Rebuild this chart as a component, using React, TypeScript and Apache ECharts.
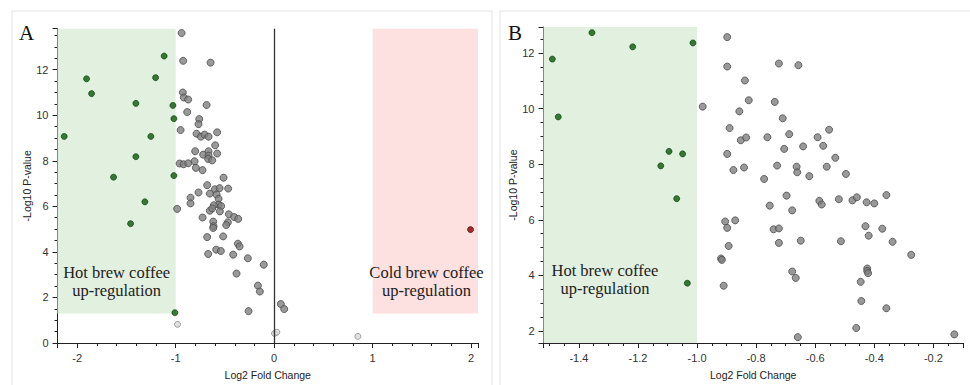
import React, { useEffect, useRef } from "react";
import * as echarts from "echarts";

// Panel A: Log2 fold change vs -Log10 p-value
const aGreen: number[][] = [
  [-2.132, 9.07], [-1.905, 11.6], [-1.854, 10.95], [-1.404, 10.52], [-1.404, 8.18],
  [-1.631, 7.28], [-1.252, 9.07], [-1.204, 11.65], [-1.117, 12.6], [-1.028, 10.43],
  [-1.018, 9.85], [-1.018, 7.35], [-1.313, 6.2], [-1.458, 5.24], [-1.008, 1.33],
];
const aGray: number[][] = [
  [-0.94, 13.61], [-0.924, 12.39], [-0.646, 12.31], [-0.927, 11.0], [-0.917, 10.78],
  [-0.873, 10.69], [-0.686, 10.45], [-0.883, 10.14], [-0.761, 9.83], [-0.768, 9.61],
  [-0.95, 9.35], [-0.788, 9.19], [-0.744, 9.06], [-0.707, 9.15], [-0.666, 9.06],
  [-0.579, 9.25], [-0.599, 8.68], [-0.802, 8.42], [-0.721, 8.27], [-0.666, 8.42],
  [-0.666, 8.23], [-0.579, 8.32], [-0.67, 8.08], [-0.629, 8.02], [-0.96, 7.88],
  [-0.92, 7.85], [-0.873, 7.89], [-0.808, 7.98], [-0.795, 7.69], [-0.727, 7.59],
  [-0.514, 7.26], [-0.68, 6.93], [-0.602, 6.75], [-0.554, 6.8], [-0.467, 6.78],
  [-0.768, 6.61], [-0.653, 6.56], [-0.585, 6.52], [-0.849, 6.38], [-0.564, 6.33],
  [-0.849, 6.13], [-0.564, 6.08], [-0.612, 6.05], [-0.538, 6.01], [-0.985, 5.89],
  [-0.653, 5.81], [-0.629, 5.91], [-0.551, 5.78], [-0.46, 5.65], [-0.406, 5.53],
  [-0.365, 5.45], [-0.727, 5.51], [-0.619, 5.33], [-0.47, 5.3], [-0.615, 5.13],
  [-0.619, 5.05], [-0.487, 5.18], [-0.68, 4.65], [-0.518, 4.68], [-0.368, 4.36],
  [-0.351, 4.24], [-0.67, 3.91], [-0.589, 4.1], [-0.541, 4.04], [-0.416, 3.88],
  [-0.267, 3.72], [-0.105, 3.44], [-0.382, 3.05], [-0.165, 2.52], [-0.145, 2.26],
  [-0.26, 1.4], [0.068, 1.71], [0.102, 1.49],
];
const aLight: number[][] = [[-0.981, 0.82], [0.004, 0.42], [0.027, 0.47], [0.85, 0.29]];
const aRed: number[][] = [[1.994, 4.98]];

// Panel B
const bGreen: number[][] = [
  [-1.356, 12.73], [-1.49, 11.78], [-1.218, 12.22], [-1.014, 12.36], [-1.47, 9.7],
  [-1.095, 8.46], [-1.049, 8.37], [-1.123, 7.94], [-1.069, 6.76], [-1.033, 3.72],
];
const bGray: number[][] = [
  [-0.898, 12.57], [-0.898, 11.51], [-0.838, 11.01], [-0.825, 10.3], [-0.981, 10.07],
  [-0.857, 9.9], [-0.89, 9.3], [-0.852, 8.86], [-0.834, 8.96], [-0.898, 8.37],
  [-0.877, 7.79], [-0.841, 7.88], [-0.905, 5.94], [-0.871, 5.98], [-0.898, 5.71],
  [-0.893, 5.06], [-0.919, 4.61], [-0.916, 4.56], [-0.91, 3.63],
  [-0.723, 11.62], [-0.657, 11.56], [-0.737, 10.24], [-0.71, 9.65], [-0.553, 9.24],
  [-0.762, 8.97], [-0.688, 9.08], [-0.592, 8.97], [-0.641, 8.64], [-0.573, 8.66],
  [-0.705, 8.55], [-0.532, 8.23], [-0.729, 7.95], [-0.663, 7.91], [-0.661, 7.71],
  [-0.561, 7.91], [-0.62, 7.57], [-0.496, 7.65], [-0.773, 7.47], [-0.697, 6.87],
  [-0.586, 6.68], [-0.578, 6.55], [-0.52, 6.74], [-0.474, 6.7], [-0.459, 6.81],
  [-0.426, 6.63], [-0.4, 6.59], [-0.359, 6.89], [-0.754, 6.51], [-0.678, 6.34],
  [-0.741, 5.66], [-0.723, 5.69], [-0.723, 5.17], [-0.649, 5.25], [-0.513, 5.23],
  [-0.43, 5.77], [-0.419, 5.43], [-0.373, 5.68], [-0.338, 5.21], [-0.275, 4.74],
  [-0.678, 4.14], [-0.666, 3.91], [-0.424, 4.25], [-0.424, 4.16], [-0.421, 4.08],
  [-0.446, 3.77], [-0.444, 3.08], [-0.359, 2.82], [-0.461, 2.11], [-0.659, 1.78],
  [-0.129, 1.88],
];

// axis ranges
const aX = [-2.2, 2.07];
const aY = [0, 13.8];
const bX = [-1.52, -0.1];
const bY = [1.57, 12.93];
const regionFloorA = 1.3;

const regionText = "Hot brew coffee\nup-regulation";
const regionTextCold = "Cold brew coffee\nup-regulation";

const SANS = "Liberation Sans, Arial, sans-serif";
const SERIF = "Liberation Serif, Times New Roman, serif";

const grayStyle = { color: "#7f7f7f", borderColor: "#4a4a4a", borderWidth: 1 };
const greenStyle = { color: "#095a09", borderColor: "#053305", borderWidth: 0.8 };

function xAxisCfg(idx: number, range: number[], step: number, minorSplit: number, fmt?: (v: number) => string) {
  return {
    type: "value",
    gridIndex: idx,
    min: range[0],
    max: range[1],
    minInterval: step,
    maxInterval: step,
    name: "Log2 Fold Change",
    nameLocation: "middle",
    nameGap: 26,
    nameTextStyle: { fontFamily: SANS, fontSize: 10.5, color: "#222" },
    axisLine: { show: true, onZero: false, lineStyle: { color: "#222", width: 1 } },
    axisTick: { show: true, length: 5, lineStyle: { color: "#222" } },
    minorTick: { show: true, splitNumber: minorSplit, length: 3, lineStyle: { color: "#222" } },
    splitLine: { show: false },
    axisLabel: {
      showMinLabel: false,
      showMaxLabel: false,
      margin: 9,
      fontFamily: SANS,
      fontSize: 11,
      color: "#333",
      formatter: fmt,
    },
  };
}

function yAxisCfg(idx: number, range: number[], minorSplit: number, showMin: boolean) {
  return {
    type: "value",
    gridIndex: idx,
    min: range[0],
    max: range[1],
    minInterval: 2,
    maxInterval: 2,
    name: "-Log10 P-value",
    nameLocation: "middle",
    nameGap: 25,
    nameTextStyle: { fontFamily: SANS, fontSize: 10.5, color: "#222" },
    axisLine: { show: true, onZero: false, lineStyle: { color: "#222", width: 1 } },
    axisTick: { show: true, length: 5, lineStyle: { color: "#222" } },
    minorTick: { show: true, splitNumber: minorSplit, length: 3, lineStyle: { color: "#222" } },
    splitLine: { show: false },
    axisLabel: {
      showMinLabel: showMin,
      showMaxLabel: false,
      margin: 9,
      fontFamily: SANS,
      fontSize: 11,
      color: "#333",
    },
  };
}

const textLabel = (t: string) => ({
  show: true,
  position: "inside",
  formatter: t,
  fontFamily: SERIF,
  fontSize: 16.5,
  lineHeight: 18,
  color: "#222",
  align: "center",
  verticalAlign: "middle",
});

export default function App() {
  const ref = useRef<HTMLDivElement>(null);
  useEffect(() => {
    document.body.style.margin = "0";
    const chart = echarts.init(ref.current!, undefined, { renderer: "svg" });
    chart.setOption({
      animation: false,
      backgroundColor: "#ffffff",
      graphic: [
        { type: "rect", shape: { x: 12, y: 11, width: 480, height: 390 }, style: { fill: "none", stroke: "#e4e4e4", lineWidth: 1 }, silent: true },
        { type: "rect", shape: { x: 500, y: 11, width: 480, height: 390 }, style: { fill: "none", stroke: "#e4e4e4", lineWidth: 1 }, silent: true },
        { type: "text", left: 19, top: 22, style: { text: "A", fontFamily: SERIF, fontSize: 21, fill: "#111" } },
        { type: "text", left: 508, top: 22, style: { text: "B", fontFamily: SERIF, fontSize: 21, fill: "#111" } },
      ],
      grid: [
        { left: 57.5, top: 28.7, width: 420.5, height: 315.3 },
        { left: 543.5, top: 27.1, width: 419.4, height: 319 },
      ],
      xAxis: [
        xAxisCfg(0, aX, 1, 5),
        xAxisCfg(1, bX, 0.2, 4, (v: number) => v.toFixed(1)),
      ],
      yAxis: [yAxisCfg(0, aY, 4, true), yAxisCfg(1, bY, 4, false)],
      series: [
        {
          type: "scatter",
          xAxisIndex: 0,
          yAxisIndex: 0,
          data: aGray,
          symbolSize: 7,
          itemStyle: grayStyle,
          z: 3,
          markArea: {
            silent: true,
            data: [
              [{ coord: [aX[0], regionFloorA], itemStyle: { color: "#e2f0e0" } }, { coord: [-1, aY[1]] }],
              [{ coord: [1, regionFloorA], itemStyle: { color: "#fde0e0" } }, { coord: [aX[1], aY[1]] }],
            ],
          },
          markLine: {
            silent: true,
            symbol: "none",
            label: { show: false },
            lineStyle: { color: "#333", width: 1.3, type: "solid" },
            data: [{ xAxis: 0 }],
          },
        },
        {
          type: "scatter",
          xAxisIndex: 0,
          yAxisIndex: 0,
          data: aLight,
          symbolSize: 6,
          itemStyle: { color: "#d8d8d8", borderColor: "#8a8a8a", borderWidth: 1 },
          z: 3,
        },
        {
          type: "scatter",
          xAxisIndex: 0,
          yAxisIndex: 0,
          data: aGreen,
          symbolSize: 6,
          itemStyle: greenStyle,
          z: 4,
          markPoint: {
            symbol: "circle",
            symbolSize: 1,
            itemStyle: { color: "rgba(0,0,0,0)" },
            silent: true,
            data: [
              { coord: [-1.6, 2.71], label: textLabel(regionText) },
              { coord: [1.547, 2.71], label: textLabel(regionTextCold) },
            ],
          },
        },
        {
          type: "scatter",
          xAxisIndex: 0,
          yAxisIndex: 0,
          data: aRed,
          symbolSize: 6,
          itemStyle: { color: "#8b0000", borderColor: "#400000", borderWidth: 0.8 },
          z: 4,
        },
        {
          type: "scatter",
          xAxisIndex: 1,
          yAxisIndex: 1,
          data: bGray,
          symbolSize: 7,
          itemStyle: grayStyle,
          z: 3,
          markArea: {
            silent: true,
            data: [[{ coord: [bX[0], bY[0]], itemStyle: { color: "#e2f0e0" } }, { coord: [-1, bY[1]] }]],
          },
        },
        {
          type: "scatter",
          xAxisIndex: 1,
          yAxisIndex: 1,
          data: bGreen,
          symbolSize: 6,
          itemStyle: greenStyle,
          z: 4,
          markPoint: {
            symbol: "circle",
            symbolSize: 1,
            itemStyle: { color: "rgba(0,0,0,0)" },
            silent: true,
            data: [{ coord: [-1.312, 3.85], label: textLabel(regionText) }],
          },
        },
      ],
    });
    return () => chart.dispose();
  }, []);
  return <div ref={ref} style={{ width: 970, height: 385 }} />;
}
